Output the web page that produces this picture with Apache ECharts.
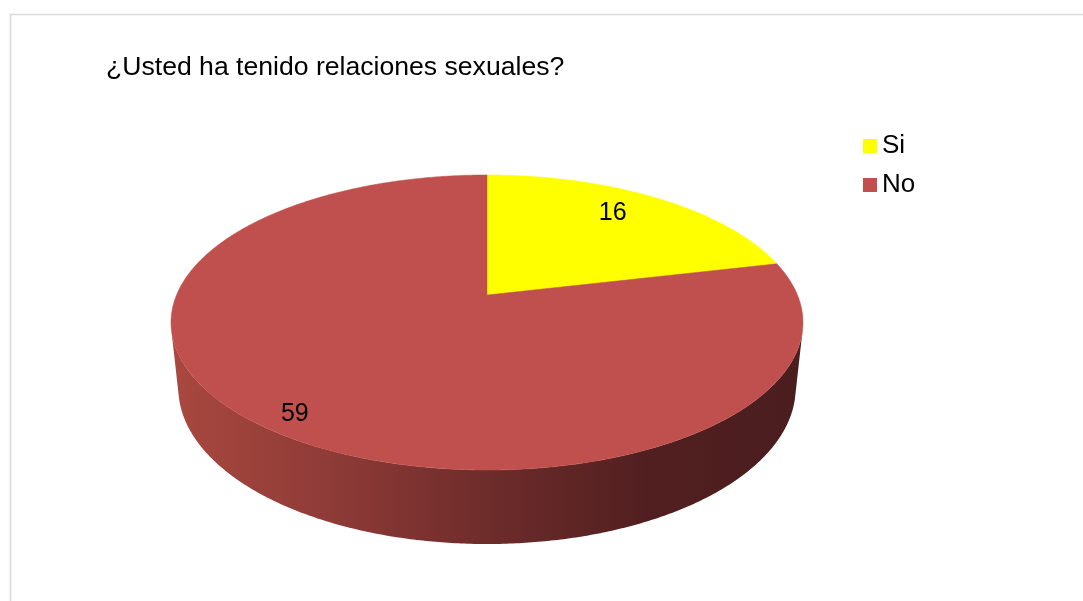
<!DOCTYPE html>
<html>
<head>
<meta charset="utf-8">
<title>¿Usted ha tenido relaciones sexuales?</title>
<script src="https://cdn.jsdelivr.net/npm/echarts@6/dist/echarts.min.js"></script>
<style>
  html, body { margin: 0; padding: 0; background: #ffffff; }
  #chart { width: 1083px; height: 601px; }
</style>
</head>
<body>
<div id="chart"></div>
<script>
// ---- data ----
const titleText = '¿Usted ha tenido relaciones sexuales?';
const categories = ['Si', 'No'];
const counts = [16, 59];
const sliceColors = ['#ffff00', '#c0504d'];

// ---- 3D pie projection (camera looking down on a flat cylinder) ----
const CX = 487, CY = 295;          // screen position of the pie centre
const FOCAL = 1480;                // focal length in px
const DIST = 4.767;                // camera distance in pie radii
const PHI = 27.3 * Math.PI / 180;  // camera elevation
const THICK = 0.239;               // cylinder height in pie radii
const SIN_P = Math.sin(PHI), COS_P = Math.cos(PHI);

function project(X, Y, Z) {
  const depth = DIST - Y * SIN_P + Z * COS_P;
  const yc = Y * COS_P + Z * SIN_P;
  return [CX + FOCAL * X / depth, CY - FOCAL * yc / depth];
}

// angles (clockwise from 12 o'clock) whose outer wall faces the camera
const FRONT_HALF = Math.acos(-1 / (DIST * COS_P));
const FRONT_START = FRONT_HALF;
const FRONT_END = 2 * Math.PI - FRONT_HALF;

// label placement: fraction of radius along the mid angle, plus a nudge
const labelRadius = [0.72, 0.87];
const labelNudgeY = [-9, 8];

const FONT = '"Liberation Sans", Arial, sans-serif';
const total = counts.reduce((a, b) => a + b, 0);

const sideGradient = {
  type: 'linear', x: 171, y: 0, x2: 803, y2: 0, global: true,
  colorStops: [
    { offset: 0, color: '#a9483f' },
    { offset: 0.25, color: '#8f3b37' },
    { offset: 0.5, color: '#6e2c2b' },
    { offset: 0.75, color: '#521f20' },
    { offset: 1, color: '#4a1d1e' }
  ]
};

function arcPoints(a0, a1, Y) {
  const pts = [];
  const n = Math.max(6, Math.ceil((a1 - a0) / (Math.PI / 360)));
  for (let k = 0; k <= n; k++) {
    const t = a0 + (a1 - a0) * k / n;
    pts.push(project(Math.sin(t), Y, Math.cos(t)));
  }
  return pts;
}

function makeRender(idx) {
  return function (params, api) {
    let before = 0;
    for (let j = 0; j < idx; j++) before += counts[j];
    const value = api.value(0);
    const a0 = before / total * 2 * Math.PI;
    const a1 = (before + value) / total * 2 * Math.PI;
    const children = [];

    // outer wall (only the part facing the viewer)
    const f0 = Math.max(a0, FRONT_START), f1 = Math.min(a1, FRONT_END);
    if (f1 > f0) {
      const topEdge = arcPoints(f0, f1, 0);
      const bottomEdge = arcPoints(f0, f1, -THICK).reverse();
      children.push({
        type: 'polygon',
        z2: 1,
        shape: { points: topEdge.concat(bottomEdge) },
        style: { fill: sideGradient, stroke: null }
      });
    }

    // top face
    const topFace = [project(0, 0, 0)].concat(arcPoints(a0, a1, 0));
    children.push({
      type: 'polygon',
      z2: 10,
      shape: { points: topFace },
      style: { fill: sliceColors[idx], stroke: sliceColors[idx], lineWidth: 0.5 }
    });

    // value label
    const mid = (a0 + a1) / 2;
    const r = labelRadius[idx];
    const p = project(r * Math.sin(mid), 0, r * Math.cos(mid));
    children.push({
      type: 'text',
      z2: 20,
      x: p[0],
      y: p[1] + labelNudgeY[idx],
      style: {
        text: String(value),
        align: 'center',
        verticalAlign: 'middle',
        font: '25px ' + FONT,
        fill: '#000000'
      }
    });

    return { type: 'group', children: children };
  };
}

const chart = echarts.init(document.getElementById('chart'), null, { renderer: 'canvas' });

chart.setOption({
  backgroundColor: '#ffffff',
  animation: false,
  title: {
    text: titleText,
    left: 106,
    top: 54,
    padding: 0,
    textStyle: {
      fontFamily: FONT,
      fontSize: 26.6,
      fontWeight: 'normal',
      color: '#000000'
    }
  },
  legend: {
    orient: 'vertical',
    left: 863,
    top: 133,
    padding: 0,
    itemWidth: 14,
    itemHeight: 14,
    itemGap: 13,
    icon: 'rect',
    data: categories,
    selectedMode: false,
    textStyle: {
      fontFamily: FONT,
      fontSize: 26,
      color: '#000000'
    }
  },
  graphic: [{
    type: 'rect',
    silent: true,
    z: -10,
    shape: { x: 10.5, y: 14.5, width: 1200, height: 700 },
    style: { fill: null, stroke: '#d9d9d9', lineWidth: 1.5 }
  }],
  series: categories.map((name, i) => ({
    type: 'custom',
    name: name,
    coordinateSystem: 'none',
    itemStyle: { color: sliceColors[i] },
    renderItem: makeRender(i),
    data: [{ name: name, value: [counts[i]] }]
  }))
});
</script>
</body>
</html>
